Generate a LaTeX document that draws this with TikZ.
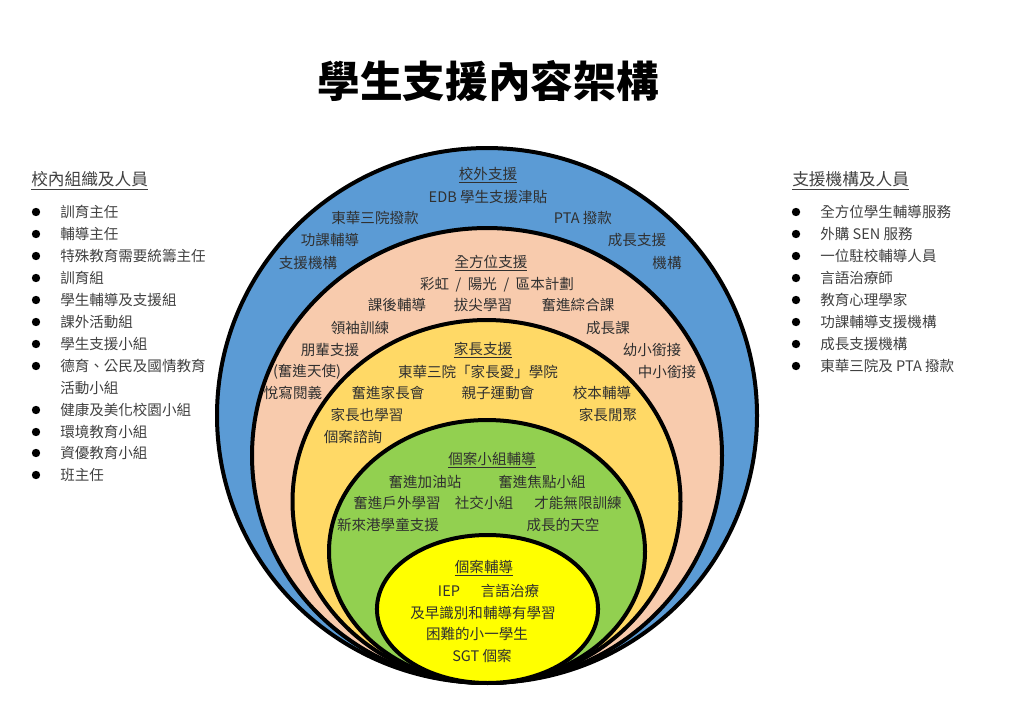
\documentclass[tikz,border=0pt]{standalone}
\usepackage{fontspec}
\setmainfont{Noto Sans CJK TC}
\definecolor{cBlue}{HTML}{5B9BD5}
\definecolor{cPeach}{HTML}{F8CBAD}
\definecolor{cOrange}{HTML}{FFD966}
\definecolor{cGreen}{HTML}{92D050}
\definecolor{cYellow}{HTML}{FFFF00}
\definecolor{cText}{HTML}{303030}
\definecolor{cList}{HTML}{404040}
\tikzset{
  ring/.style={line width=3pt, draw=black},
  lbl/.style={font=\fontsize{10.9}{13}\selectfont, text=cText, inner sep=0pt},
  lst/.style={font=\fontsize{10.9}{13}\selectfont, text=cList, anchor=west, inner sep=0pt},
  hdr/.style={font=\fontsize{12.5}{15}\selectfont, text=cList, anchor=west, inner sep=0pt},
  bul/.style={circle, fill=black, inner sep=0pt, minimum size=6.3pt},
}
\begin{document}
\begin{tikzpicture}[x=0.75pt,y=-0.75pt]
\useasboundingbox (0,0) rectangle (1024,724);
% title
\node[font=\fontsize{32}{36}\selectfont\bfseries, inner sep=0pt] (title) at (488,81) {學生支援內容架構};
% rings
\draw[ring, fill=cBlue]   (487,415.5) ellipse [x radius=202.5pt, y radius=200.6pt];
\draw[ring, fill=cPeach]  (487,455.5) ellipse [x radius=176.25pt, y radius=170.6pt];
\draw[ring, fill=cOrange] (486.5,501.5) ellipse [x radius=145.5pt, y radius=136.1pt];
\draw[ring, fill=cGreen]  (487,551.5) ellipse [x radius=118.5pt, y radius=98.6pt];
\draw[ring, fill=cYellow] (487.5,609) ellipse [x radius=82.9pt, y radius=55.5pt];
% outer ring texts
\node[lbl] (o0) at (488,175) {\underline{校外支援}};
\node[lbl] (o1) at (488,197) {EDB 學生支援津貼};
\node[lbl] (o2) at (375,218) {東華三院撥款};
\node[lbl] (o3) at (583,218) {PTA 撥款};
\node[lbl] (o4) at (330,240) {功課輔導};
\node[lbl] (o5) at (637,240) {成長支援};
\node[lbl] (o6) at (308,263) {支援機構};
\node[lbl] (o7) at (667,263) {機構};
% peach ring texts
\node[lbl] (p0) at (491,263) {\underline{全方位支援}};
\node[lbl] (p1) at (497,285) {彩虹 \ / \ 陽光 \ / \ 區本計劃};
\node[lbl] (p2) at (397,305) {課後輔導};
\node[lbl] (p3) at (483,305) {拔尖學習};
\node[lbl] (p4) at (578,305) {奮進綜合課};
\node[lbl] (p5) at (360,328) {領袖訓練};
\node[lbl] (p6) at (608,328) {成長課};
\node[lbl] (p7) at (330,350) {朋輩支援};
\node[lbl] (p8) at (652,350) {幼小銜接};
\node[lbl] (p9) at (307,372) {(奮進天使)};
\node[lbl] (p10) at (667,372) {中小銜接};
\node[lbl] (p11) at (293,393) {悅寫閱義};
% orange ring texts
\node[lbl] (y0) at (483,350) {\underline{家長支援}};
\node[lbl] (y1) at (478,372) {東華三院「家長愛」學院};
\node[lbl] (y2) at (388,393) {奮進家長會};
\node[lbl] (y3) at (498,393) {親子運動會};
\node[lbl] (y4) at (602,393) {校本輔導};
\node[lbl] (y5) at (367,415) {家長也學習};
\node[lbl] (y6) at (608,415) {家長閒聚};
\node[lbl] (y7) at (353,437) {個案諮詢};
% green ring texts
\node[lbl] (g0) at (492,460) {\underline{個案小組輔導}};
\node[lbl] (g1) at (425,482) {奮進加油站};
\node[lbl] (g2) at (542,482) {奮進焦點小組};
\node[lbl] (g3) at (397,503) {奮進戶外學習};
\node[lbl] (g4) at (484,503) {社交小組};
\node[lbl] (g5) at (578,503) {才能無限訓練};
\node[lbl] (g6) at (388,525) {新來港學童支援};
\node[lbl] (g7) at (563,525) {成長的天空};
% yellow core texts
\node[lbl] (c0) at (484,568) {\underline{個案輔導}};
\node[lbl] (c1) at (449,591) {IEP};
\node[lbl] (c2) at (510,591) {言語治療};
\node[lbl] (c3) at (483,613) {及早識別和輔導有學習};
\node[lbl] (c4) at (477,634) {困難的小一學生};
\node[lbl] (c5) at (482,656) {SGT 個案};
% left list
\node[hdr] (lh) at (31,181) {\underline{校內組織及人員}};
\foreach \i/\yy/\t in {1/212/訓育主任, 2/234/輔導主任, 3/256/特殊教育需要統籌主任, 4/278/訓育組, 5/300/學生輔導及支援組, 6/322/課外活動組, 7/344/學生支援小組, 8/366/德育、公民及國情教育, 9/410/健康及美化校園小組, 10/432/環境教育小組, 11/453/資優教育小組, 12/475/班主任}{
  \node[bul] (lb\i) at (36,\yy) {};
  \node[lst] (lt\i) at (60,\yy) {\t};
}
\node[lst] (lt8b) at (60,388) {活動小組};
% right list
\node[hdr] (rh) at (792,181) {\underline{支援機構及人員}};
\foreach \i/\yy/\t in {1/212/全方位學生輔導服務, 2/234/外購 SEN 服務, 3/256/一位駐校輔導人員, 4/278/言語治療師, 5/300/教育心理學家, 6/322/功課輔導支援機構, 7/344/成長支援機構, 8/366/東華三院及 PTA 撥款}{
  \node[bul] (rb\i) at (796,\yy) {};
  \node[lst] (rt\i) at (820,\yy) {\t};
}
\end{tikzpicture}
\end{document}
